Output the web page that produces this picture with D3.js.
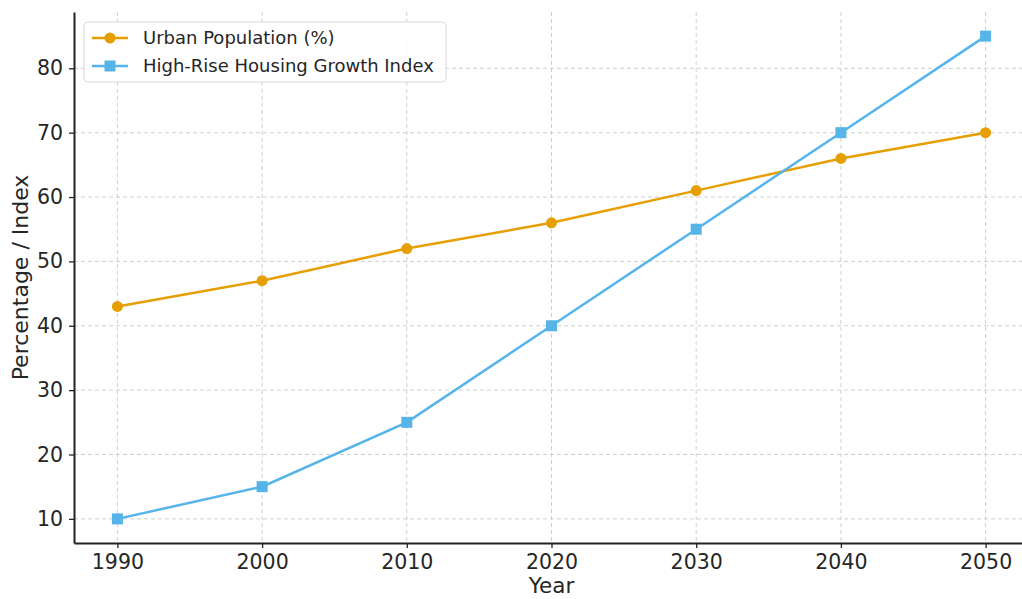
<!DOCTYPE html>
<html>
<head>
<meta charset="utf-8">
<script src="https://cdn.jsdelivr.net/npm/d3@7"></script>
<style>
  body { margin: 0; background: #fff; }
  text { font-family: "DejaVu Sans", sans-serif; fill: #262626; }
</style>
</head>
<body>
<svg id="chart"></svg>
<script>
const years = [1990, 2000, 2010, 2020, 2030, 2040, 2050];
const urbanPopulation = [43, 47, 52, 56, 61, 66, 70];
const highRiseIndex = [10, 15, 25, 40, 55, 70, 85];
const yTicks = [10, 20, 30, 40, 50, 60, 70, 80];

const W = 1022, H = 599;
const margin = { top: 12, right: -7, bottom: 56, left: 74 };
const width = W - margin.left - margin.right;
const height = H - margin.top - margin.bottom;

const svg = d3.select("#chart").attr("width", W).attr("height", H);
const g = svg.append("g").attr("transform", `translate(${margin.left},${margin.top})`);

const x = d3.scaleLinear().domain([1987, 2053]).range([0, width]);
const y = d3.scaleLinear().domain([6.25, 88.75]).range([height, 0]);

// grid
g.append("g").selectAll("line").data(years).enter().append("line")
  .attr("x1", d => x(d)).attr("x2", d => x(d))
  .attr("y1", 0).attr("y2", height)
  .attr("stroke", "#cfcfcf").attr("stroke-dasharray", "4,3").attr("stroke-width", 1);
g.append("g").selectAll("line").data(yTicks).enter().append("line")
  .attr("x1", 0).attr("x2", width)
  .attr("y1", d => y(d)).attr("y2", d => y(d))
  .attr("stroke", "#cfcfcf").attr("stroke-dasharray", "4,3").attr("stroke-width", 1);

// axes
const xAxis = g.append("g")
  .attr("transform", `translate(0,${height})`)
  .call(d3.axisBottom(x).tickValues(years).tickFormat(d3.format("d")).tickSize(5).tickSizeOuter(0).tickPadding(6));
const yAxis = g.append("g")
  .call(d3.axisLeft(y).tickValues(yTicks).tickSize(5).tickSizeOuter(0).tickPadding(6));
[xAxis, yAxis].forEach(a => {
  a.select(".domain").attr("stroke", "#222").attr("stroke-width", 2);
  a.selectAll(".tick line").attr("stroke", "#222").attr("stroke-width", 1.3);
  a.selectAll(".tick text").attr("font-size", 20.5).attr("fill", "#262626")
    .attr("font-family", "DejaVu Sans, sans-serif");
});

// lines
const line = d3.line().x((d, i) => x(years[i])).y(d => y(d));
const orange = "#E69F00", blue = "#56B4E9";

g.append("path").datum(urbanPopulation)
  .attr("fill", "none").attr("stroke", orange).attr("stroke-width", 2.5).attr("d", line);
g.append("path").datum(highRiseIndex)
  .attr("fill", "none").attr("stroke", blue).attr("stroke-width", 2.5).attr("d", line);

g.selectAll(".pt-urban").data(urbanPopulation).enter().append("circle")
  .attr("class", "pt-urban")
  .attr("cx", (d, i) => x(years[i])).attr("cy", d => y(d))
  .attr("r", 5.5).attr("fill", orange);
g.selectAll(".pt-hr").data(highRiseIndex).enter().append("rect")
  .attr("class", "pt-hr")
  .attr("x", (d, i) => x(years[i]) - 5.5).attr("y", d => y(d) - 5.5)
  .attr("width", 11).attr("height", 11).attr("fill", blue);

// axis labels
svg.append("text")
  .attr("x", margin.left + x(2020)).attr("y", H - 6)
  .attr("text-anchor", "middle").attr("font-size", 21.5)
  .text("Year");
svg.append("text")
  .attr("transform", `translate(28,${margin.top + height / 2}) rotate(-90)`)
  .attr("text-anchor", "middle").attr("font-size", 22)
  .text("Percentage / Index");

// legend
const legend = g.append("g").attr("transform", "translate(10,10)");
legend.append("rect")
  .attr("width", 362).attr("height", 60).attr("rx", 4)
  .attr("fill", "#fff").attr("fill-opacity", 0.85)
  .attr("stroke", "#d8d8d8").attr("stroke-width", 1);
const items = [
  { name: "Urban Population (%)", color: orange, shape: "circle" },
  { name: "High-Rise Housing Growth Index", color: blue, shape: "square" }
];
items.forEach((it, i) => {
  const row = legend.append("g").attr("transform", `translate(0,${16 + i * 28})`);
  row.append("line").attr("x1", 8).attr("x2", 44).attr("stroke", it.color).attr("stroke-width", 2.5);
  if (it.shape === "circle") {
    row.append("circle").attr("cx", 26).attr("r", 5.5).attr("fill", it.color);
  } else {
    row.append("rect").attr("x", 20.5).attr("y", -5.5).attr("width", 11).attr("height", 11).attr("fill", it.color);
  }
  row.append("text").attr("x", 59).attr("dy", "0.35em").attr("font-size", 18).text(it.name);
});
</script>
</body>
</html>
